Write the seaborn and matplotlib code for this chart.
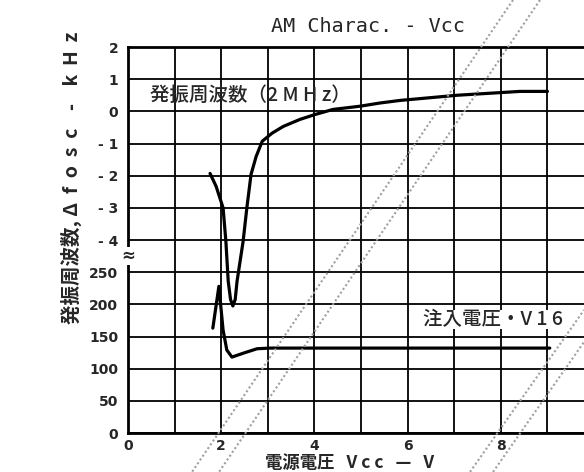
import numpy as np
import pandas as pd
import matplotlib
matplotlib.use("Agg")
import matplotlib.pyplot as plt
import seaborn as sns
from matplotlib.lines import Line2D

# oscillation frequency shift (kHz) vs Vcc
vcc_osc = [1.76, 1.89, 2.04, 2.10, 2.15, 2.20, 2.25, 2.30, 2.34, 2.47, 2.55, 2.64,
           2.75, 2.88, 3.09, 3.33, 3.69, 4.01, 4.40, 4.98, 5.41, 5.84, 7.06, 8.41, 9.0]
dfosc = [-1.93, -2.33, -3.0, -4.04, -5.28, -5.85, -6.05, -5.85, -5.28, -4.04, -3.0, -1.96,
         -1.4, -0.93, -0.68, -0.47, -0.25, -0.10, 0.06, 0.16, 0.26, 0.34, 0.50, 0.62, 0.62]

# injection voltage V16 (mV) vs Vcc
vcc_inj = [1.82, 1.95, 2.04, 2.12, 2.23, 2.47, 2.77, 3.05, 5.0, 7.0, 9.05]
v16 = [163, 228, 160, 129, 118, 124, 131, 132, 132, 132, 132]

x_ticks = [0, 2, 4, 6, 8]
y_low_ticks = [0, 50, 100, 150, 200, 250]
y_high_ticks = [-4, -3, -2, -1, 0, 1, 2]

# kHz part sits on top of the mV part: -4 kHz -> 300, 2 kHz -> 600
def khz_to_axis(f):
    return 500 + 50 * f

osc = pd.DataFrame({'vcc': vcc_osc, 'y': [khz_to_axis(f) for f in dfosc]})
inj = pd.DataFrame({'vcc': vcc_inj, 'y': v16})

sns.set_style("white")
plt.rcParams['font.family'] = ['DejaVu Sans', 'Noto Sans CJK JP']
jp = ['Noto Sans CJK JP', 'DejaVu Sans']

fig = plt.figure(figsize=(5.84, 4.72), dpi=100)
ax = fig.add_axes([0.2192, 0.0826, 0.798, 0.8178])

sns.lineplot(data=osc, x='vcc', y='y', ax=ax, color='black', lw=2.3,
             sort=False, estimator=None)
sns.lineplot(data=inj, x='vcc', y='y', ax=ax, color='black', lw=2.3,
             sort=False, estimator=None)

ax.set_xlim(0, 10)
ax.set_ylim(0, 600)
ax.set_xticks(range(0, 11))
ax.set_xticklabels([str(v) if v in x_ticks else '' for v in range(0, 11)])
yt = y_low_ticks + [khz_to_axis(f) for f in y_high_ticks]
ax.set_yticks(yt)
ax.set_yticklabels([str(v) for v in y_low_ticks] +
                   [('- %d' % -f) if f < 0 else str(f) for f in y_high_ticks])
ax.tick_params(axis='y', length=0, labelsize=10, pad=7)
ax.tick_params(axis='x', length=0, labelsize=10, pad=4)
for t in ax.get_xticklabels() + ax.get_yticklabels():
    t.set_fontweight('bold')
ax.grid(True, color='black', lw=1.3)
for s in ax.spines.values():
    s.set_color('black')
    s.set_linewidth(2)
ax.set_xlabel('')
ax.set_ylabel('')

# axis break mark
ax.text(0, 275, '≈', ha='center', va='center', fontsize=12, fontweight='bold',
        bbox=dict(facecolor='white', edgecolor='none', pad=0), clip_on=False)

ax.text(0.47, 525, '発振周波数（2 M H z）', fontsize=14, family=jp, fontweight='medium',
        ha='left', va='center')
ax.text(6.33, 176, '注入電圧・V 1 6', fontsize=14, family=jp, fontweight='medium',
        ha='left', va='center', bbox=dict(facecolor='white', edgecolor='none', pad=0))

fig.text(368 / 584, 1 - 27 / 472, 'AM Charac. - Vcc', fontsize=14.5,
         family='DejaVu Sans Mono', ha='center', va='center')
fig.text(71 / 584, 1 - 178 / 472, '発振周波数, Δ  f  o  s  c    -    k  H  z', rotation=90,
         fontsize=14, fontweight='bold', family=jp, ha='center', va='center')
fig.text(265 / 584, 1 - 472 / 472, '電源電圧   V c c   —   V', fontsize=12.5,
         fontweight='bold', family=jp, ha='left', va='bottom')

# scanned watermark traces (dotted diagonals)
for (x0, y0), (x1, y1) in [((513, 0), (192, 472)), ((540, 0), (219, 472)),
                           ((470, 472), (584, 310)), ((493, 472), (584, 342))]:
    fig.add_artist(Line2D([x0 / 584, x1 / 584], [1 - y0 / 472, 1 - y1 / 472],
                          color='#a0a0a0', lw=1.5, ls=(0, (1, 1.2)),
                          transform=fig.transFigure, zorder=0.5))

fig.savefig('out.png', dpi=100)
